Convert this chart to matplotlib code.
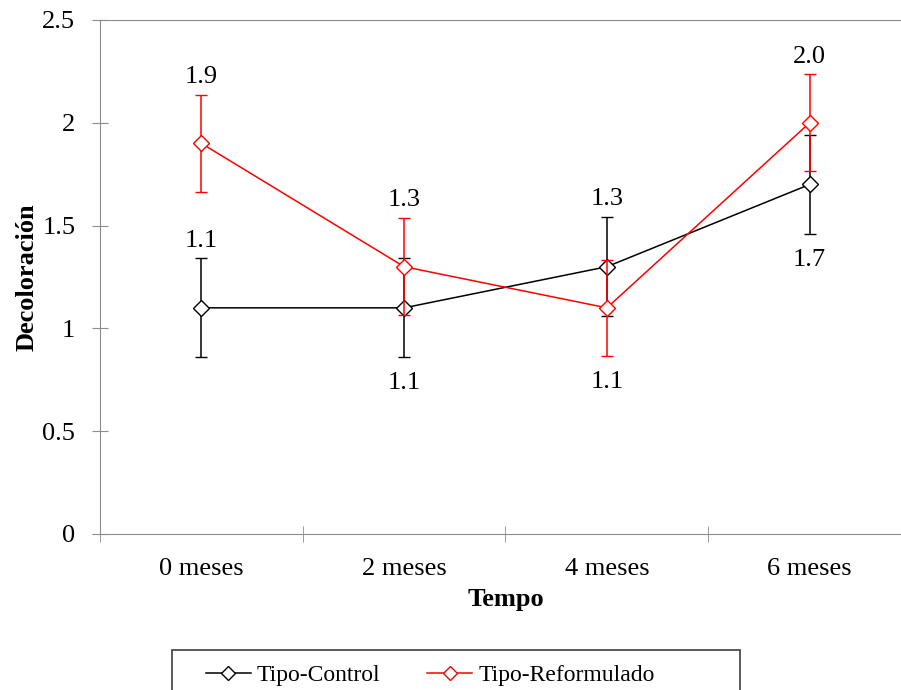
import numpy as np
import matplotlib.pyplot as plt
from matplotlib.lines import Line2D
from matplotlib.patches import Rectangle

plt.rcParams['font.family'] = ['Liberation Serif', 'DejaVu Serif']

# datos
meses = ['0 meses', '2 meses', '4 meses', '6 meses']
control = [1.1, 1.1, 1.3, 1.7]
control_err = [0.24, 0.24, 0.24, 0.24]
reform = [1.9, 1.3, 1.1, 2.0]
reform_err = [0.235, 0.235, 0.235, 0.235]
# posicion de las etiquetas: arriba (1) o abajo (-1)
control_pos = [1, -1, 1, -1]
reform_pos = [1, 1, -1, 1]

gris = '#8c8c8c'
fs = 19
x = np.arange(len(meses))

fig = plt.figure(figsize=(9.01, 6.90), dpi=100)
ax = fig.add_axes([100 / 901, 1 - 534 / 690, 811 / 901, 514 / 690])

ax.errorbar(x, control, yerr=control_err, color='black', lw=1.1,
            marker='D', markersize=8, markerfacecolor='white',
            markeredgecolor='black', capsize=4.5, elinewidth=1.1,
            zorder=3)
ax.errorbar(x, reform, yerr=reform_err, color='red', lw=1.1,
            marker='D', markersize=8, markerfacecolor='white',
            markeredgecolor='red', capsize=4.5, elinewidth=1.1,
            zorder=4)

for vals, errs, pos in [(control, control_err, control_pos),
                        (reform, reform_err, reform_pos)]:
    for xi, v, e, p in zip(x, vals, errs, pos):
        if p > 0:
            ax.annotate('%.1f' % v, (xi, v + e), xytext=(0, 5),
                        textcoords='offset points', ha='center',
                        va='bottom', fontsize=fs)
        else:
            ax.annotate('%.1f' % v, (xi, v - e), xytext=(0, -11),
                        textcoords='offset points', ha='center',
                        va='top', fontsize=fs)

ax.set_xlim(-0.5, 3.5)
ax.set_ylim(0, 2.5)
ax.set_yticks([0, 0.5, 1, 1.5, 2, 2.5])
ax.set_yticklabels(['0', '0.5', '1', '1.5', '2', '2.5'], fontsize=fs)
ax.set_xticks(x)
ax.set_xticklabels(meses, fontsize=fs)
ax.set_xticks([-0.5, 0.5, 1.5, 2.5, 3.5], minor=True)
ax.tick_params(axis='x', which='major', length=0, pad=17)
ax.tick_params(axis='x', which='minor', length=12, direction='inout',
               color=gris)
ax.tick_params(axis='y', length=11.5, direction='inout', color=gris, pad=12)

for s in ['left', 'bottom', 'top']:
    ax.spines[s].set_color(gris)
ax.spines['right'].set_visible(False)

ax.set_ylabel('Decoloración', fontsize=fs, fontweight='bold', labelpad=3)
ax.set_xlabel('Tempo', fontsize=fs, fontweight='bold', labelpad=6)

# leyenda
handles = [Line2D([], [], color='black', lw=1.1, marker='D', markersize=7,
                  markerfacecolor='white', markeredgecolor='black'),
           Line2D([], [], color='red', lw=1.1, marker='D', markersize=7,
                  markerfacecolor='white', markeredgecolor='red')]
fig.legend(handles, ['Tipo-Control', 'Tipo-Reformulado'],
           loc='center left', bbox_to_anchor=(194 / 901, 1 - 675 / 690),
           ncol=2, fontsize=17, frameon=False, borderpad=0,
           handlelength=1.9, handletextpad=0.25, columnspacing=2.0)
fig.patches.append(Rectangle((172 / 901, -0.05), 568 / 901, 0.05 + 40 / 690,
                             transform=fig.transFigure, fill=False,
                             edgecolor='#404040', lw=1.2))

fig.savefig('out.png', dpi=100)
